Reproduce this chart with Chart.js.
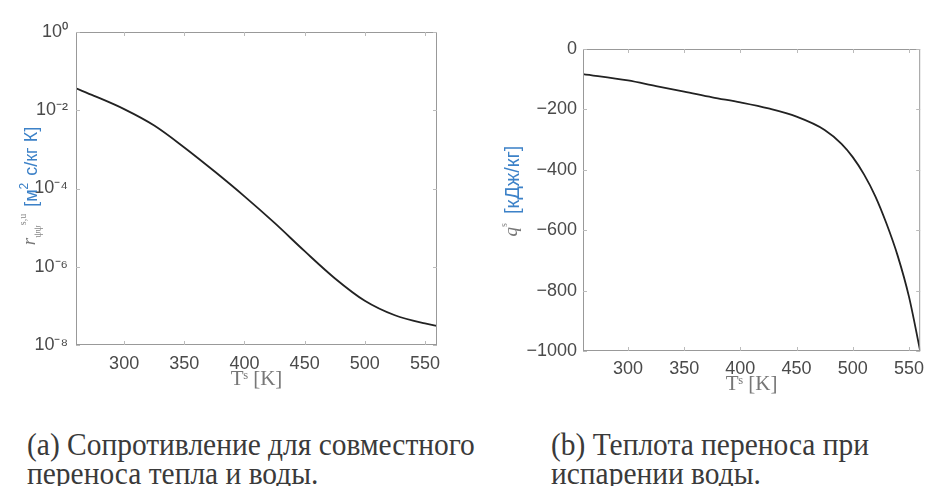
<!DOCTYPE html>
<html>
<head>
<meta charset="utf-8">
<script src="https://cdn.jsdelivr.net/npm/chart.js@4"></script>
<style>
  body { margin: 0; background: #fff; width: 931px; height: 486px; overflow: hidden; position: relative; }
  canvas { position: absolute; }
  #chartA { left: 0; top: 0; }
  #chartB { left: 470px; top: 0; }
  .cap { position: absolute; font-family: 'Liberation Serif', serif; font-size: 31px; line-height: 29px;
         color: #3a3a3a; white-space: nowrap; transform: scaleX(0.95); transform-origin: left top; }
  #capA { left: 27px; top: 430px; }
  #capB { left: 551px; top: 430px; }
</style>
</head>
<body>
<canvas id="chartA" width="465" height="392"></canvas>
<canvas id="chartB" width="461" height="397"></canvas>
<div class="cap" id="capA">(a) Сопротивление для совместного<br>переноса тепла и воды.</div>
<div class="cap" id="capB">(b) Теплота переноса при<br>испарении воды.</div>
<script>
// temperature grid, K
const tempA = [260, 275, 300, 325, 350, 375, 400, 425, 450, 475, 500, 525, 550, 560];
// resistance r, m^2 s/(kg K), log scale
const resist = [3.63e-2, 2.34e-2, 1.07e-2, 4.07e-3, 1.12e-3, 2.75e-4, 6.3e-5, 1.32e-5, 2.5e-6, 5.1e-7, 1.35e-7, 5.75e-8, 3.55e-8, 3.1e-8];

const tempB = [260, 300, 325, 350, 375, 400, 425, 450, 475, 490, 500, 510, 520, 530, 540, 550, 560];
// heat of transfer q*, kJ/kg
const heatQ = [-83, -104, -123, -141, -160, -177, -197, -224, -268, -314, -358, -415, -487, -578, -685, -820, -1000];

const xTicks = [300, 350, 400, 450, 500, 550];
const logTicks = [1e-8, 1e-6, 1e-4, 1e-2, 1];
const logTickLabels = ['10⁻⁸', '10⁻⁶', '10⁻⁴', '10⁻²', '10⁰'];

const tickFont = { family: 'Liberation Sans, Arial, sans-serif', size: 18 };
const tickColor = '#4a4a4a';

// frame + inward tick marks, matlab style
const framePlugin = {
  id: 'frame',
  afterDraw(chart) {
    const { ctx, chartArea: a, scales } = chart;
    ctx.save();
    ctx.strokeStyle = '#999';
    ctx.lineWidth = 1;
    ctx.strokeRect(a.left + 0.5, a.top + 0.5, a.right - a.left - 1, a.bottom - a.top - 1);
    ctx.strokeStyle = '#bbb';
    ctx.beginPath();
    scales.x.ticks.forEach(t => {
      const px = Math.round(scales.x.getPixelForValue(t.value)) + 0.5;
      ctx.moveTo(px, a.bottom); ctx.lineTo(px, a.bottom - 4);
      ctx.moveTo(px, a.top); ctx.lineTo(px, a.top + 4);
    });
    scales.y.ticks.forEach(t => {
      const py = Math.round(scales.y.getPixelForValue(t.value)) + 0.5;
      ctx.moveTo(a.left, py); ctx.lineTo(a.left + 4, py);
      ctx.moveTo(a.right, py); ctx.lineTo(a.right - 4, py);
    });
    ctx.stroke();
    ctx.restore();
  }
};

// rotated y title made of several styled parts
const yTitlePlugin = {
  id: 'yTitle',
  afterDraw(chart, args, opts) {
    if (!opts.parts) return;
    const ctx = chart.ctx;
    ctx.save();
    let total = 0;
    opts.parts.forEach(p => { ctx.font = p.font; p.w = ctx.measureText(p.text).width; total += p.w + (p.gap || 0); });
    ctx.translate(opts.x, opts.yCenter);
    ctx.rotate(-Math.PI / 2);
    ctx.textBaseline = 'middle';
    let cx = -total / 2;
    opts.parts.forEach(p => {
      ctx.font = p.font;
      ctx.fillStyle = p.color;
      ctx.fillText(p.text, cx, p.dy || 0);
      cx += p.w + (p.gap || 0);
    });
    ctx.restore();
  }
};

function xScale(axisH, pad) {
  return {
    type: 'linear', min: 260, max: 560,
    afterBuildTicks: s => { s.ticks = xTicks.map(v => ({ value: v })); },
    afterFit: s => { s.height = axisH; },
    grid: { display: false, drawTicks: false },
    border: { display: false },
    ticks: { font: tickFont, color: tickColor, padding: pad, maxRotation: 0 },
    title: {
      display: true, text: 'Tˢ [K]', color: '#777',
      font: { family: 'Liberation Serif, serif', size: 21 },
      padding: { top: 0, bottom: 0 }
    }
  };
}

new Chart(document.getElementById('chartA'), {
  type: 'line',
  data: {
    datasets: [{
      data: tempA.map((t, i) => ({ x: t, y: resist[i] })),
      borderColor: '#222', borderWidth: 1.8, pointRadius: 0,
      cubicInterpolationMode: 'monotone', fill: false
    }]
  },
  options: {
    responsive: false, animation: false,
    layout: { padding: { top: 32, right: 28, left: 0, bottom: 0 } },
    plugins: {
      legend: { display: false }, tooltip: { enabled: false },
      yTitle: {
        x: 32, yCenter: 186,
        parts: [
          { text: 'r', font: 'italic 19px Liberation Serif', color: '#777', dy: -2 },
          { text: 'ψψ', font: '10px Liberation Serif', color: '#888', dy: 6 },
          { text: 's,u', font: '10px Liberation Serif', color: '#888', dy: -9, gap: 7 },
          { text: '[м', font: '18px Liberation Sans', color: '#3d82c8' },
          { text: '2', font: '12px Liberation Sans', color: '#3d82c8', dy: -7, gap: 2 },
          { text: ' с/кг К]', font: '18px Liberation Sans', color: '#3d82c8' }
        ]
      }
    },
    scales: {
      x: xScale(47, 8),
      y: {
        type: 'logarithmic', min: 1e-8, max: 1,
        afterBuildTicks: s => { s.ticks = logTicks.map(v => ({ value: v })); },
        afterFit: s => { s.width = 76; },
        grid: { display: false, drawTicks: false },
        border: { display: false },
        ticks: {
          font: tickFont, color: tickColor, padding: 8,
          callback: v => logTickLabels[logTicks.indexOf(v)]
        }
      }
    }
  },
  plugins: [framePlugin, yTitlePlugin]
});

new Chart(document.getElementById('chartB'), {
  type: 'line',
  data: {
    datasets: [{
      data: tempB.map((t, i) => ({ x: t, y: heatQ[i] })),
      borderColor: '#222', borderWidth: 1.8, pointRadius: 0,
      cubicInterpolationMode: 'monotone', fill: false
    }]
  },
  options: {
    responsive: false, animation: false,
    layout: { padding: { top: 49, right: 1, left: 0, bottom: 0 } },
    plugins: {
      legend: { display: false }, tooltip: { enabled: false },
      yTitle: {
        x: 43, yCenter: 191,
        parts: [
          { text: 'q', font: 'italic 19px Liberation Serif', color: '#777', dy: -1 },
          { text: 's', font: '10px Liberation Serif', color: '#888', dy: -9, gap: 9 },
          { text: '[кДж/кг]', font: '20px Liberation Sans', color: '#3d82c8' }
        ]
      }
    },
    scales: {
      x: xScale(46, 7),
      y: {
        type: 'linear', min: -1000, max: 0,
        afterFit: s => { s.width = 113; },
        grid: { display: false, drawTicks: false },
        border: { display: false },
        ticks: {
          stepSize: 200, font: tickFont, color: tickColor, padding: 6,
          callback: v => (v < 0 ? '−' + Math.abs(v) : String(v))
        }
      }
    }
  },
  plugins: [framePlugin, yTitlePlugin]
});
</script>
</body>
</html>
